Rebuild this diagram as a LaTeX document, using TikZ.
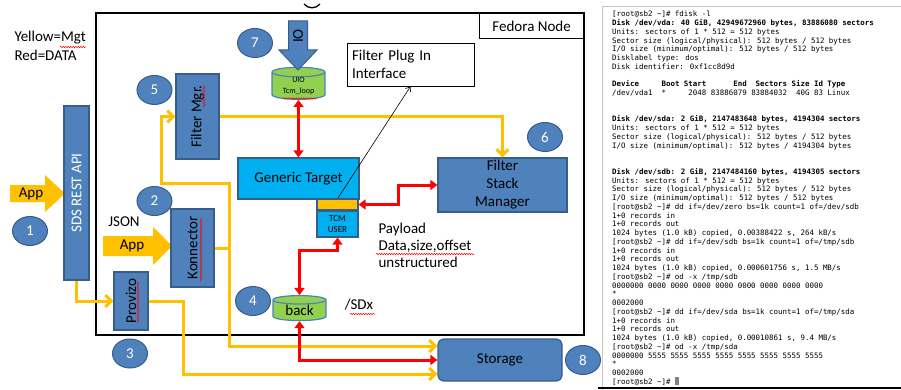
\documentclass[tikz,border=0pt]{standalone}
\usepackage{fontspec}
\setmainfont{Carlito}
\newfontfamily\termfont{DejaVu Sans Mono}
\usepackage{graphicx}
\usetikzlibrary{arrows.meta, positioning, shapes.geometric, calc,
                decorations.pathmorphing}

\definecolor{offblue}{HTML}{4F81BD}
\definecolor{blueedge}{HTML}{385D8A}
\definecolor{tgtblue}{HTML}{00B0F0}
\definecolor{mgtyellow}{HTML}{FFC000}
\definecolor{diskgreen}{HTML}{92D050}
\definecolor{datared}{HTML}{FF0000}

\newcommand\diagfont{\fontsize{15}{18}\selectfont}
\newcommand\tcmfont{\fontsize{9}{11}\selectfont}
\newcommand\uiofont{\fontsize{8}{10.5}\selectfont}

\begin{document}
\begin{tikzpicture}[
    x=1pt, y=-1pt, >=Stealth, font=\diagfont,
    blk/.style={draw=blueedge, fill=offblue, line width=1.2pt, inner sep=0pt},
    num/.style={ellipse, draw=blueedge, fill=offblue, line width=1pt,
                text=white, minimum width=35pt, minimum height=29pt, inner sep=0pt},
    cyl/.style={cylinder, shape border rotate=90, aspect=0.3, draw=offblue,
                fill=diskgreen, line width=1.2pt, inner sep=0pt},
    mgt/.style={draw=mgtyellow, line width=3pt,
                -{Straight Barb[length=6pt,width=12pt]}},
    data/.style={draw=datared, line width=3pt,
                 {Triangle[length=7pt,width=10pt]}-{Triangle[length=7pt,width=10pt]}},
    typo/.style={draw=red, line width=0.5pt, decorate,
                 decoration={snake, amplitude=0.7pt, segment length=2.5pt}}
  ]
  \useasboundingbox (0,0) rectangle (901,390);

  \draw[line width=1.3pt] (304,4) .. controls (308,9) and (316,9) .. (320,4);
  \draw[line width=2pt] (96,13) rectangle (584,335);
  \node[draw, line width=0.8pt, minimum width=104pt, minimum height=25pt,
        anchor=north east] (fedora) at (584,13) {Fedora Node};

  \node[anchor=west] (legmgt) at (11,38) {Yellow=Mgt};
  \node[anchor=west] (legdata) at (11,55) {Red=DATA};

  \fill[mgtyellow] (10,185) -- (45,185) -- (45,175) -- (65,193.5) -- (45,212)
    -- (45,202) -- (10,202) -- cycle;
  \node (app1) at (31,193.5) {App};
  \fill[mgtyellow] (103,236) -- (153,236) -- (153,227) -- (172,246) -- (153,265)
    -- (153,256) -- (103,256) -- cycle;
  \node (app2) at (132,246) {App};
  \node (json) at (124,222) {JSON};

  \node[blk, minimum width=25pt, minimum height=174pt, text=white] (sds)
    at (76.5,193) {\rotatebox{90}{SDS REST API}};
  \node[blk, minimum width=43pt, minimum height=85pt] (fmgr)
    at (197.5,116.5) {\rotatebox{90}{Filter Mgr.}};
  \node[blk, minimum width=43pt, minimum height=78pt] (konn)
    at (192.5,248) {\rotatebox{90}{Konnector}};
  \node[blk, minimum width=34pt, minimum height=58pt] (prov)
    at (131,301) {\rotatebox{90}{Provizo}};

  \node[cyl, minimum width=53pt, minimum height=32pt, align=center,
        font=\uiofont] (uio) at (298.5,86) {UIO\\Tcm\_loop};
  \filldraw[fill=offblue, draw=blueedge, line width=1pt] (288.5,21) -- (307.5,21)
    -- (307.5,50) -- (317,50) -- (298,70) -- (279,50) -- (288.5,50) -- cycle;
  \node[rotate=90] (io) at (298,36) {IO};

  \node[blk, fill=tgtblue, minimum width=121pt, minimum height=41pt] (gt)
    at (298.5,178.5) {Generic Target};
  \node[blk, fill=mgtyellow, minimum width=41pt, minimum height=11pt] (bar)
    at (337.5,204.5) {};
  \node[blk, fill=tgtblue, minimum width=41pt, minimum height=26pt,
        align=center, font=\tcmfont] (tcm) at (337.5,224) {TCM\\USER};
  \node[cyl, minimum width=53pt, minimum height=25pt] (back)
    at (299.5,310.5) {back};

  \node[draw, fill=white, line width=0.8pt, minimum width=127pt,
        minimum height=43pt, text width=117pt, inner xsep=5pt, align=left]
    (plug) at (410.5,64.5) {Filter Plug In\\Interface};
  \node[blk, minimum width=129pt, minimum height=54pt, align=center] (fsm)
    at (502.5,185) {Filter\\Stack\\Manager};
  \node[blk, rounded corners=6pt, minimum width=124pt, minimum height=42pt]
    (store) at (500,360) {Storage};

  \node[anchor=west, align=left, font=\fontsize{15}{17.3}\selectfont]
    (payload) at (375,245.5) {Payload\\Data,size,offset\\unstructured};
  \node (sdx) at (359,305) {/SDx};

  \coordinate (split) at (229,248);
  \coordinate (mgtbend) at (161,183);
  \coordinate (provbend) at (183,301);
  \coordinate (plugtap) at (338,198);

  \draw[mgt] (sds.south) |- (prov.west);
  \draw[mgt] (prov.east) -- (provbend) |- ($(store.west)+(0,14)$);
  \draw[mgt, -] (konn.east) -- (split);
  \draw[mgt] (split) |- (mgtbend) |- (fmgr.west);
  \draw[mgt] (split) |- ($(store.west)+(0,-14)$);
  \draw[mgt] (fmgr.east) -| (fsm.north);

  \draw[data] (uio.south) -- (uio.south |- gt.north);
  \draw[data] (bar.east) -| ($(bar.east)!.5!(fsm.west)$) |- (fsm.west);
  \draw[data] (tcm.south) -- ++(0,13) -| (back.north);
  \draw[data] (back.south) |- (store.west);

  \draw[-{Straight Barb[length=4pt,width=6pt]}, line width=0.6pt]
    (plugtap) -- (plug.south);

  \node[num] (n1) at (30,231) {1};
  \node[num] (n2) at (154.5,201) {2};
  \node[num] (n3) at (130,353.5) {3};
  \node[num] (n4) at (253,301) {4};
  \node[num] (n5) at (154.5,90) {5};
  \node[num] (n6) at (545,137) {6};
  \node[num] (n7) at (255,43) {7};
  \node[num] (n8) at (583,360) {8};

  \draw[typo] (60,47) -- (86,47);
  \draw[typo] (204,107) -- (204,85);
  \draw[typo] (201,281) -- (201,218);
  \draw[typo] (138,323) -- (138,281);
  \draw[typo] (283,98.5) -- (316,98.5);
  \draw[typo] (376,254) -- (474,254);
  \draw[typo] (350,314) -- (375,314);

  \draw[gray!45, line width=1pt] (602,390) -- (602,7) -- (901,7);
  \draw[line width=2pt] (598,388) -- (901,388);
  \node[anchor=north west, inner sep=0pt, align=left,
        font=\termfont\fontsize{7.45}{8.75}\selectfont] (term) at (612,11) {%
{[}root@sb2 \textasciitilde]\# fdisk -l\\
\textbf{Disk /dev/vda: 40 GiB, 42949672960 bytes, 83886080 sectors}\\
Units: sectors of 1 * 512 = 512 bytes\\
Sector size (logical/physical): 512 bytes / 512 bytes\\
I/O size (minimum/optimal): 512 bytes / 512 bytes\\
Disklabel type: dos\\
Disk identifier: 0xf1cc8d9d\\
\mbox{}\\
\textbf{Device~~~~~Boot Start~~~~~~End~~Sectors Size Id Type}\\
/dev/vda1~~*~~~~~2048 83886079 83884032~~40G 83 Linux\\
\mbox{}\\
\mbox{}\\
\textbf{Disk /dev/sda: 2 GiB, 2147483648 bytes, 4194304 sectors}\\
Units: sectors of 1 * 512 = 512 bytes\\
Sector size (logical/physical): 512 bytes / 512 bytes\\
I/O size (minimum/optimal): 512 bytes / 4194304 bytes\\
\mbox{}\\
\mbox{}\\
\textbf{Disk /dev/sdb: 2 GiB, 2147484160 bytes, 4194305 sectors}\\
Units: sectors of 1 * 512 = 512 bytes\\
Sector size (logical/physical): 512 bytes / 512 bytes\\
I/O size (minimum/optimal): 512 bytes / 512 bytes\\
{[}root@sb2 \textasciitilde]\# dd if=/dev/zero bs=1k count=1 of=/dev/sdb\\
1+0 records in\\
1+0 records out\\
1024 bytes (1.0 kB) copied, 0.00388422 s, 264 kB/s\\
{[}root@sb2 \textasciitilde]\# dd if=/dev/sdb bs=1k count=1 of=/tmp/sdb\\
1+0 records in\\
1+0 records out\\
1024 bytes (1.0 kB) copied, 0.000601756 s, 1.5 MB/s\\
{[}root@sb2 \textasciitilde]\# od -x /tmp/sdb\\
0000000 0000 0000 0000 0000 0000 0000 0000 0000\\
*\\
0002000\\
{[}root@sb2 \textasciitilde]\# dd if=/dev/sda bs=1k count=1 of=/tmp/sda\\
1+0 records in\\
1+0 records out\\
1024 bytes (1.0 kB) copied, 0.00010861 s, 9.4 MB/s\\
{[}root@sb2 \textasciitilde]\# od -x /tmp/sda\\
0000000 5555 5555 5555 5555 5555 5555 5555 5555\\
*\\
0002000\\
{[}root@sb2 \textasciitilde]\# \textcolor{gray}{\rule[-1pt]{3.5pt}{8pt}}};
\end{tikzpicture}
\end{document}
